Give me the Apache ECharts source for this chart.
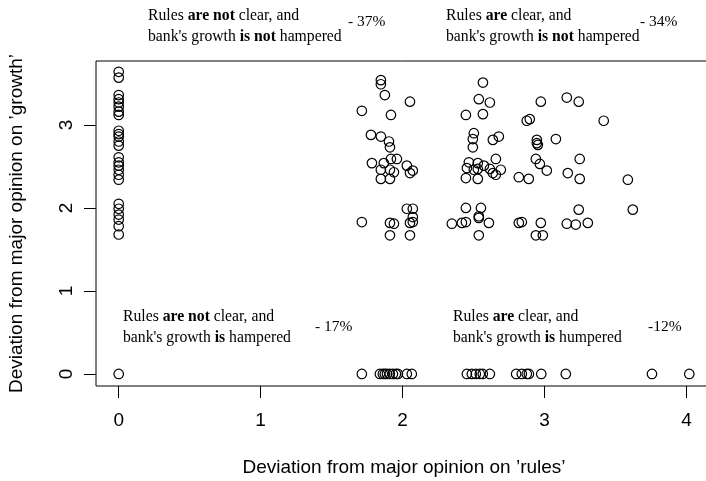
<!DOCTYPE html>
<html>
<head>
<meta charset="utf-8">
<script src="https://cdn.jsdelivr.net/npm/echarts@6/dist/echarts.min.js"></script>
<style>
html,body{margin:0;padding:0;background:#fff;}
#chart{width:706px;height:481px;}
</style>
</head>
<body>
<div id="chart"></div>
<script>
// Deviation from major opinion on 'rules' (x) and on 'growth' (y)
const rulesDev = [
  // column at 0
  0,0,0,0,0,0,0,0,0,0,0,0,0,0,0,0,0,0,0,0,0,0,0,0,0,0,
  // cluster near 2
  1.847,1.847,1.875,2.052,1.713,1.918,1.777,1.847,1.904,1.911,
  1.784,1.868,1.918,1.960,1.847,1.911,1.939,2.030,2.052,2.072,
  1.847,1.911,2.030,2.072,1.713,1.911,1.939,2.052,2.072,2.072,
  1.911,2.052,
  // cluster near 3
  2.566,2.537,2.615,2.974,2.446,2.566,2.875,2.896,2.502,2.495,
  2.495,2.636,2.678,2.946,2.946,2.953,3.080,2.467,2.530,2.573,
  2.657,2.453,2.502,2.530,2.615,2.636,2.657,2.692,2.446,2.530,
  2.939,2.967,3.016,2.819,2.889,2.446,2.552,2.537,2.537,2.347,
  2.418,2.446,2.608,2.819,2.840,2.974,2.939,2.988,2.537,
  // beyond 3
  3.157,3.241,3.417,3.248,3.164,3.248,3.587,3.241,3.622,3.157,
  3.220,3.305,
  // growth deviation 0 row
  1.713,1.840,1.861,1.875,1.890,1.910,1.932,1.953,1.967,2.030,
  2.065,2.453,2.488,2.516,2.544,2.565,2.615,2.800,2.840,2.875,
  2.890,2.977,3.150,3.757,4.020
];
const growthDev = [
  // column at 0
  3.64,3.57,3.36,3.31,3.27,3.22,3.16,3.12,2.93,2.89,2.86,2.80,2.75,
  2.61,2.55,2.51,2.46,2.40,2.34,2.05,1.99,1.92,1.86,1.78,1.68,0,
  // cluster near 2
  3.54,3.49,3.36,3.28,3.17,3.12,2.88,2.86,2.80,2.73,
  2.54,2.54,2.59,2.59,2.46,2.46,2.43,2.51,2.42,2.45,
  2.35,2.35,1.99,1.99,1.83,1.82,1.81,1.82,1.83,1.89,
  1.67,1.67,
  // cluster near 3
  3.51,3.31,3.27,3.28,3.12,3.13,3.05,3.07,2.90,2.83,
  2.73,2.82,2.86,2.82,2.78,2.76,2.83,2.55,2.54,2.51,
  2.59,2.48,2.46,2.47,2.47,2.42,2.40,2.46,2.36,2.35,
  2.59,2.53,2.45,2.37,2.35,2.00,2.00,1.90,1.88,1.81,
  1.82,1.83,1.82,1.82,1.83,1.82,1.67,1.67,1.67,
  // beyond 3
  3.33,3.28,3.05,2.59,2.42,2.35,2.34,1.98,1.98,1.81,
  1.80,1.82,
  // growth deviation 0 row
  0,0,0,0,0,0,0,0,0,0,
  0,0,0,0,0,0,0,0,0,0,
  0,0,0,0,0
];
const xTickValues = [0, 1, 2, 3, 4];
const yTickValues = [0, 1, 2, 3];
const xTitle = 'Deviation from major opinion on \u2019rules\u2019';
const yTitle = 'Deviation from major opinion on \u2019growth\u2019';
const quadrantNotes = [
  {line1: 'Rules {b|are not} clear, and', line2: 'bank\'s growth {b|is not} hampered', pct: '- 37%'},
  {line1: 'Rules {b|are} clear, and', line2: 'bank\'s growth {b|is not} hampered', pct: '- 34%'},
  {line1: 'Rules {b|are not} clear, and', line2: 'bank\'s growth {b|is} hampered', pct: '- 17%'},
  {line1: 'Rules {b|are} clear, and', line2: 'bank\'s growth {b|is} humpered', pct: '-12%'}
];

const points = rulesDev.map((x, i) => [x, growthDev[i]]);

const serif = '"Liberation Serif", "Times New Roman", serif';
const sans = '"Liberation Sans", Arial, Helvetica, sans-serif';
const notePos = [[148, 5, 348, 14], [446, 5, 640, 14], [123, 306, 315, 319], [453, 306, 648, 319]];

const graphics = [];
quadrantNotes.forEach((n, i) => {
  const p = notePos[i];
  graphics.push({
    type: 'text', left: p[0], top: p[1],
    style: {
      text: n.line1 + '\n' + n.line2,
      font: '15.7px ' + serif, fill: '#000', lineHeight: 21,
      rich: {b: {fontWeight: 'bold', fontFamily: serif, fontSize: 15.7, lineHeight: 21}}
    }
  });
  graphics.push({
    type: 'text', left: p[2], top: p[3],
    style: {text: n.pct, font: '15.5px ' + serif, fill: '#000'}
  });
});

const chart = echarts.init(document.getElementById('chart'), null, {renderer: 'canvas'});
chart.setOption({
  animation: false,
  backgroundColor: '#fff',
  grid: {left: 96, right: -6, top: 61, bottom: 95, outerBoundsMode: 'none', containLabel: false,
         show: true, borderColor: '#000', borderWidth: 1, backgroundColor: 'transparent'},
  xAxis: {
    type: 'value', min: -0.16, max: 4.18,
    axisLine: {show: false, onZero: false},
    axisTick: {show: true, inside: false, length: 12, customValues: xTickValues, lineStyle: {color: '#000', width: 1}},
    axisLabel: {customValues: xTickValues, margin: 25, fontFamily: sans, fontSize: 19, color: '#000'},
    splitLine: {show: false},
    name: xTitle, nameLocation: 'middle', nameGap: 72,
    nameTextStyle: {fontFamily: sans, fontSize: 19, color: '#000'}
  },
  yAxis: {
    type: 'value', min: -0.145, max: 3.77,
    axisLine: {show: false, onZero: false},
    axisTick: {show: true, inside: false, length: 12, customValues: yTickValues, lineStyle: {color: '#000', width: 1}},
    axisLabel: {customValues: yTickValues, rotate: 90, margin: 20, fontFamily: sans, fontSize: 19, color: '#000'},
    splitLine: {show: false},
    name: yTitle, nameLocation: 'middle', nameGap: 70, nameRotate: 90,
    nameTextStyle: {fontFamily: sans, fontSize: 19, color: '#000'}
  },
  series: [{
    type: 'scatter',
    data: points,
    symbol: 'circle',
    symbolSize: 9.5,
    itemStyle: {color: 'rgba(0,0,0,0)', borderColor: '#000', borderWidth: 1.2, opacity: 1},
    emphasis: {disabled: true}
  }],
  graphic: graphics
});
</script>
</body>
</html>
